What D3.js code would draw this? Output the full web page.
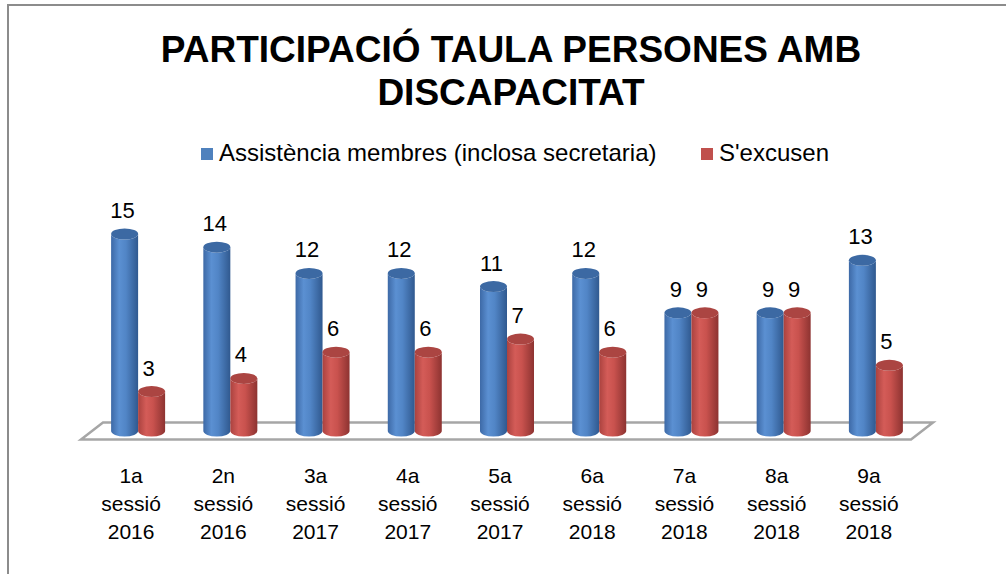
<!DOCTYPE html>
<html>
<head>
<meta charset="utf-8">
<script src="https://cdn.jsdelivr.net/npm/d3@7"></script>
<style>
  html, body { margin: 0; padding: 0; background: #fff; }
  svg { display: block; font-family: "Liberation Sans", Arial, sans-serif; }
</style>
</head>
<body>
<div id="chart"></div>
<script>
// data
var categories = [
  ["1a", "sessió", "2016"],
  ["2n", "sessió", "2016"],
  ["3a", "sessió", "2017"],
  ["4a", "sessió", "2017"],
  ["5a", "sessió", "2017"],
  ["6a", "sessió", "2018"],
  ["7a", "sessió", "2018"],
  ["8a", "sessió", "2018"],
  ["9a", "sessió", "2018"]
]
var assistencia = [15, 14, 12, 12, 11, 12, 9, 9, 13]
var excusen = [3, 4, 6, 6, 7, 6, 9, 9, 5]
var seriesNames = ["Assistència membres (inclosa secretaria)", "S'excusen"]
var titleLines = ["PARTICIPACIÓ TAULA PERSONES AMB", "DISCAPACITAT"]

var width = 1006, height = 574

var svg = d3.select("#chart").append("svg")
  .attr("width", width)
  .attr("height", height)

// chart frame
svg.append("rect")
  .attr("x", 8).attr("y", 5)
  .attr("width", 1010).attr("height", 600)
  .attr("fill", "#fff")
  .attr("stroke", "#8c8c8c")
  .attr("stroke-width", 2)

var defs = svg.append("defs")
var grad = function (id, stops) {
  var g = defs.append("linearGradient").attr("id", id)
    .attr("x1", "0%").attr("x2", "100%").attr("y1", "0%").attr("y2", "0%")
  stops.forEach(function (s) {
    g.append("stop").attr("offset", s[0]).attr("stop-color", s[1])
  })
}
grad("gBlue", [["0%", "#3d69a6"], ["30%", "#5b90d2"], ["55%", "#5185c6"], ["100%", "#30598f"]])
grad("gRed", [["0%", "#aa423f"], ["30%", "#d45c58"], ["55%", "#c9524e"], ["100%", "#8d3331"]])

var colors = {
  blue: { side: "url(#gBlue)", top: "#3c69a3", key: "#4f81bd" },
  red: { side: "url(#gRed)", top: "#ab4542", key: "#c0504d" }
}

// scales
var x = d3.scaleBand()
  .domain(d3.range(categories.length))
  .range([92, 922])

var y = d3.scaleLinear()
  .domain([0, 15])
  .range([431, 234])

// perspective depth of the floor
var depthX = 11, depthY = 8.5

// title
svg.append("g").selectAll("text")
  .data(titleLines)
  .join("text")
  .attr("x", 511)
  .attr("y", (d, i) => 62 + i * 43)
  .attr("text-anchor", "middle")
  .attr("font-size", 37)
  .attr("font-weight", "bold")
  .attr("fill", "#000")
  .text(d => d)

// legend
var legend = svg.append("g")
var legendItems = [
  { name: seriesNames[0], color: colors.blue.key, x: 201 },
  { name: seriesNames[1], color: colors.red.key, x: 701 }
]
legendItems.forEach(function (it) {
  legend.append("rect")
    .attr("x", it.x).attr("y", 148)
    .attr("width", 12).attr("height", 12)
    .attr("fill", it.color)
  legend.append("text")
    .attr("x", it.x + 18).attr("y", 161)
    .attr("font-size", 24)
    .attr("fill", "#000")
    .text(it.name)
})

// floor
var x0 = x.range()[0], x1 = x.range()[1], y0 = y(0)
svg.append("path")
  .attr("d", "M" + (x0 - depthX) + "," + (y0 + depthY) +
    "L" + (x1 - depthX) + "," + (y0 + depthY) +
    "L" + (x1 + depthX) + "," + (y0 - depthY) +
    "L" + (x0 + depthX) + "," + (y0 - depthY) + "Z")
  .attr("fill", "#fff")
  .attr("stroke", "#a6a6a6")
  .attr("stroke-width", 2.5)
  .attr("stroke-linejoin", "miter")

// cylinders
var barW = 27, ry = 5.5
var cylinder = function (g, cx, v, c) {
  var l = cx - barW / 2, r = cx + barW / 2, rx = barW / 2
  var top = y(v), bot = y(0)
  g.append("path")
    .attr("d", "M" + l + "," + top + "L" + l + "," + bot +
      "A" + rx + "," + ry + " 0 0 0 " + r + "," + bot +
      "L" + r + "," + top +
      "A" + rx + "," + ry + " 0 0 1 " + l + "," + top + "Z")
    .attr("fill", c.side)
  g.append("ellipse")
    .attr("cx", cx).attr("cy", top)
    .attr("rx", rx).attr("ry", ry)
    .attr("fill", c.top)
}

var bars = svg.append("g")
categories.forEach(function (cat, i) {
  var mid = x(i) + x.bandwidth() / 2
  cylinder(bars, mid - barW / 2, assistencia[i], colors.blue)
  cylinder(bars, mid + barW / 2, excusen[i], colors.red)
})

// value labels
var labels = svg.append("g")
  .attr("font-size", 22)
  .attr("text-anchor", "middle")
  .attr("fill", "#000")
categories.forEach(function (cat, i) {
  var mid = x(i) + x.bandwidth() / 2
  labels.append("text")
    .attr("x", mid - barW / 2 - 2)
    .attr("y", y(assistencia[i]) - 16)
    .text(assistencia[i])
  labels.append("text")
    .attr("x", mid + barW / 2 - 3)
    .attr("y", y(excusen[i]) - 16)
    .text(excusen[i])
})

// category labels
var catG = svg.append("g")
  .attr("font-size", 21)
  .attr("text-anchor", "middle")
  .attr("fill", "#000")
categories.forEach(function (cat, i) {
  var mid = x(i) + x.bandwidth() / 2 - 7
  cat.forEach(function (line, j) {
    catG.append("text")
      .attr("x", mid)
      .attr("y", 483 + j * 28)
      .text(line)
  })
})
</script>
</body>
</html>
